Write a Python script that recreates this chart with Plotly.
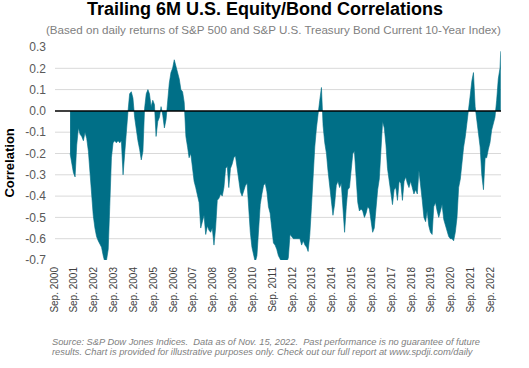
import pandas as pd
import plotly.graph_objects as go

# Monthly readings of the trailing 6M correlation (Mar 2001 .. Nov 2022), plus last day
month_starts = pd.date_range("2001-03-01", "2022-11-01", freq="MS").strftime("%Y-%m-%d").tolist()
dates = month_starts + ["2022-11-15"]

corr = [
    -0.2, -0.25, -0.29, -0.31, -0.16, -0.08, -0.11, -0.12, -0.14, -0.1,
    -0.13, -0.19, -0.3, -0.42, -0.49, -0.55, -0.59, -0.61, -0.63, -0.64,
    -0.68, -0.71, -0.70, -0.65, -0.45, -0.22, -0.15, -0.14, -0.15, -0.14,
    -0.15, -0.14, -0.3, -0.18, -0.1, 0.0, 0.08, 0.09, 0.06, -0.03,
    -0.09, -0.14, -0.18, -0.23, -0.19, 0.01, 0.08, 0.1, 0.08, 0.02,
    0.05, 0.03, -0.12, -0.05, -0.03, 0.02, -0.02, -0.08, -0.04, 0.06,
    0.13, 0.18, 0.2, 0.24, 0.21, 0.19, 0.15, 0.1, 0.09, 0.04,
    -0.12, -0.17, -0.22, -0.2, -0.28, -0.33, -0.36, -0.4, -0.43, -0.55,
    -0.52, -0.49, -0.58, -0.54, -0.56, -0.57, -0.55, -0.63, -0.55, -0.42,
    -0.41, -0.39, -0.4, -0.36, -0.27, -0.26, -0.36, -0.27, -0.25, -0.22,
    -0.21, -0.26, -0.32, -0.38, -0.4, -0.38, -0.35, -0.34, -0.48, -0.57,
    -0.64, -0.68, -0.71, -0.68, -0.56, -0.44, -0.39, -0.35, -0.34, -0.38,
    -0.45, -0.48, -0.55, -0.62, -0.63, -0.65, -0.68, -0.7, -0.71, -0.71,
    -0.71, -0.71, -0.69, -0.58, -0.59, -0.6, -0.6, -0.6, -0.6, -0.6,
    -0.63, -0.61, -0.63, -0.64, -0.66, -0.58, -0.45, -0.28, -0.17, -0.08,
    0.0, 0.05, 0.11, -0.07, -0.15, -0.2, -0.28, -0.36, -0.43, -0.49,
    -0.44, -0.35, -0.33, -0.36, -0.34, -0.45, -0.57, -0.45, -0.37, -0.36,
    -0.26, -0.2, -0.19, -0.33, -0.43, -0.47, -0.46, -0.47, -0.5, -0.48,
    -0.45, -0.46, -0.53, -0.57, -0.55, -0.45, -0.37, -0.32, -0.2, -0.05,
    -0.08, -0.16, -0.27, -0.33, -0.39, -0.44, -0.37, -0.36, -0.42, -0.33,
    -0.34, -0.42, -0.33, -0.31, -0.34, -0.36, -0.33, -0.36, -0.39, -0.37,
    -0.39, -0.28, -0.37, -0.42, -0.5, -0.52, -0.47, -0.54, -0.57, -0.58,
    -0.45, -0.43, -0.47, -0.5, -0.47, -0.44, -0.51, -0.54, -0.56, -0.59,
    -0.6, -0.6, -0.61, -0.57, -0.5, -0.36, -0.32, -0.24, -0.17, -0.12,
    -0.05, 0.02, 0.07, 0.14, 0.18, 0.02, -0.05, -0.11, -0.17, -0.3,
    -0.37, -0.22, -0.22, -0.18, -0.15, -0.09, -0.06, -0.03, 0.05, 0.15, 0.2,
    0.28,
]

y_ticks = [0.3, 0.2, 0.1, 0.0, -0.1, -0.2, -0.3, -0.4, -0.5, -0.6, -0.7]
y_tick_text = ["0.3", "0.2", "0.1", "0.0", "-0.1", "-0.2", "-0.3", "-0.4", "-0.5", "-0.6", "-0.7"]
grid_levels = [0.2, 0.1, -0.1, -0.2, -0.3, -0.4, -0.5, -0.6]
x_tick_dates = [f"{yr}-09-01" for yr in range(2000, 2023)]
x_tick_text = [f"Sep. {yr}" for yr in range(2000, 2023)]

TEAL = "#006f87"
FONT = "Liberation Sans, Arial, sans-serif"

fig = go.Figure()
fig.add_trace(go.Scatter(
    x=dates, y=corr, mode="lines", fill="tozeroy",
    line=dict(color=TEAL, width=0.6), fillcolor=TEAL,
    hoverinfo="x+y",
))

shapes = []
for g in grid_levels:
    shapes.append(dict(type="line", xref="paper", x0=0, x1=1, yref="y", y0=g, y1=g,
                       line=dict(color="#d9d9d9", width=1), layer="below"))
shapes.append(dict(type="line", xref="paper", x0=0, x1=1, yref="y", y0=0, y1=0,
                   line=dict(color="black", width=1.5), layer="above"))

ann = []
ann.append(dict(text="<b>Trailing 6M U.S. Equity/Bond Correlations</b>", xref="paper", yref="paper",
                x=0.47, y=1.178, xanchor="center", yanchor="middle", showarrow=False,
                font=dict(family=FONT, size=18, color="black")))
ann.append(dict(text="(Based on daily returns of S&P 500 and S&P U.S. Treasury Bond Current 10-Year Index)",
                xref="paper", yref="paper", x=0.49, y=1.082, xanchor="center", yanchor="middle",
                showarrow=False, font=dict(family=FONT, size=11.6, color="#808080")))
ann.append(dict(text="<b>Correlation</b>", xref="paper", yref="paper", x=-0.103, y=0.453,
                xanchor="center", yanchor="middle", textangle=-90, showarrow=False,
                font=dict(family=FONT, size=13, color="black")))
ann.append(dict(text="<i>Source: S&P Dow Jones Indices.  Data as of Nov. 15, 2022.  Past performance is no guarantee of future</i>",
                xref="paper", yref="paper", x=-0.0112, y=-0.387, xanchor="left", yanchor="middle",
                showarrow=False, font=dict(family=FONT, size=9.3, color="#808080")))
ann.append(dict(text="<i>results. Chart is provided for illustrative purposes only. Check out our full report at www.spdji.com/daily</i>",
                xref="paper", yref="paper", x=-0.0112, y=-0.434, xanchor="left", yanchor="middle",
                showarrow=False, font=dict(family=FONT, size=9.3, color="#808080")))

fig.update_layout(
    width=529, height=368,
    margin=dict(l=55, r=28, t=47, b=107.5, pad=0),
    paper_bgcolor="white", plot_bgcolor="white",
    showlegend=False,
    font=dict(family=FONT),
    shapes=shapes,
    annotations=ann,
    xaxis=dict(
        type="date", range=["2000-05-27", "2022-11-20"],
        tickmode="array", tickvals=x_tick_dates, ticktext=x_tick_text,
        tickangle=-90, tickfont=dict(family=FONT, size=10, color="#404040"),
        showgrid=False, zeroline=False, showline=False, ticks="",
        ticklabelshift=-6, ticklabelstandoff=4, automargin=False,
    ),
    yaxis=dict(
        range=[-0.7, 0.3], tickmode="array", tickvals=y_ticks, ticktext=y_tick_text,
        tickfont=dict(family=FONT, size=12, color="#595959"),
        showgrid=False, zeroline=False, showline=False, ticks="",
        ticklabelstandoff=8, automargin=False,
    ),
)

fig.write_html(
    "out.html",
    config={"displayModeBar": False},
    post_script="document.body.style.margin='0';document.body.style.overflow='hidden';",
)
